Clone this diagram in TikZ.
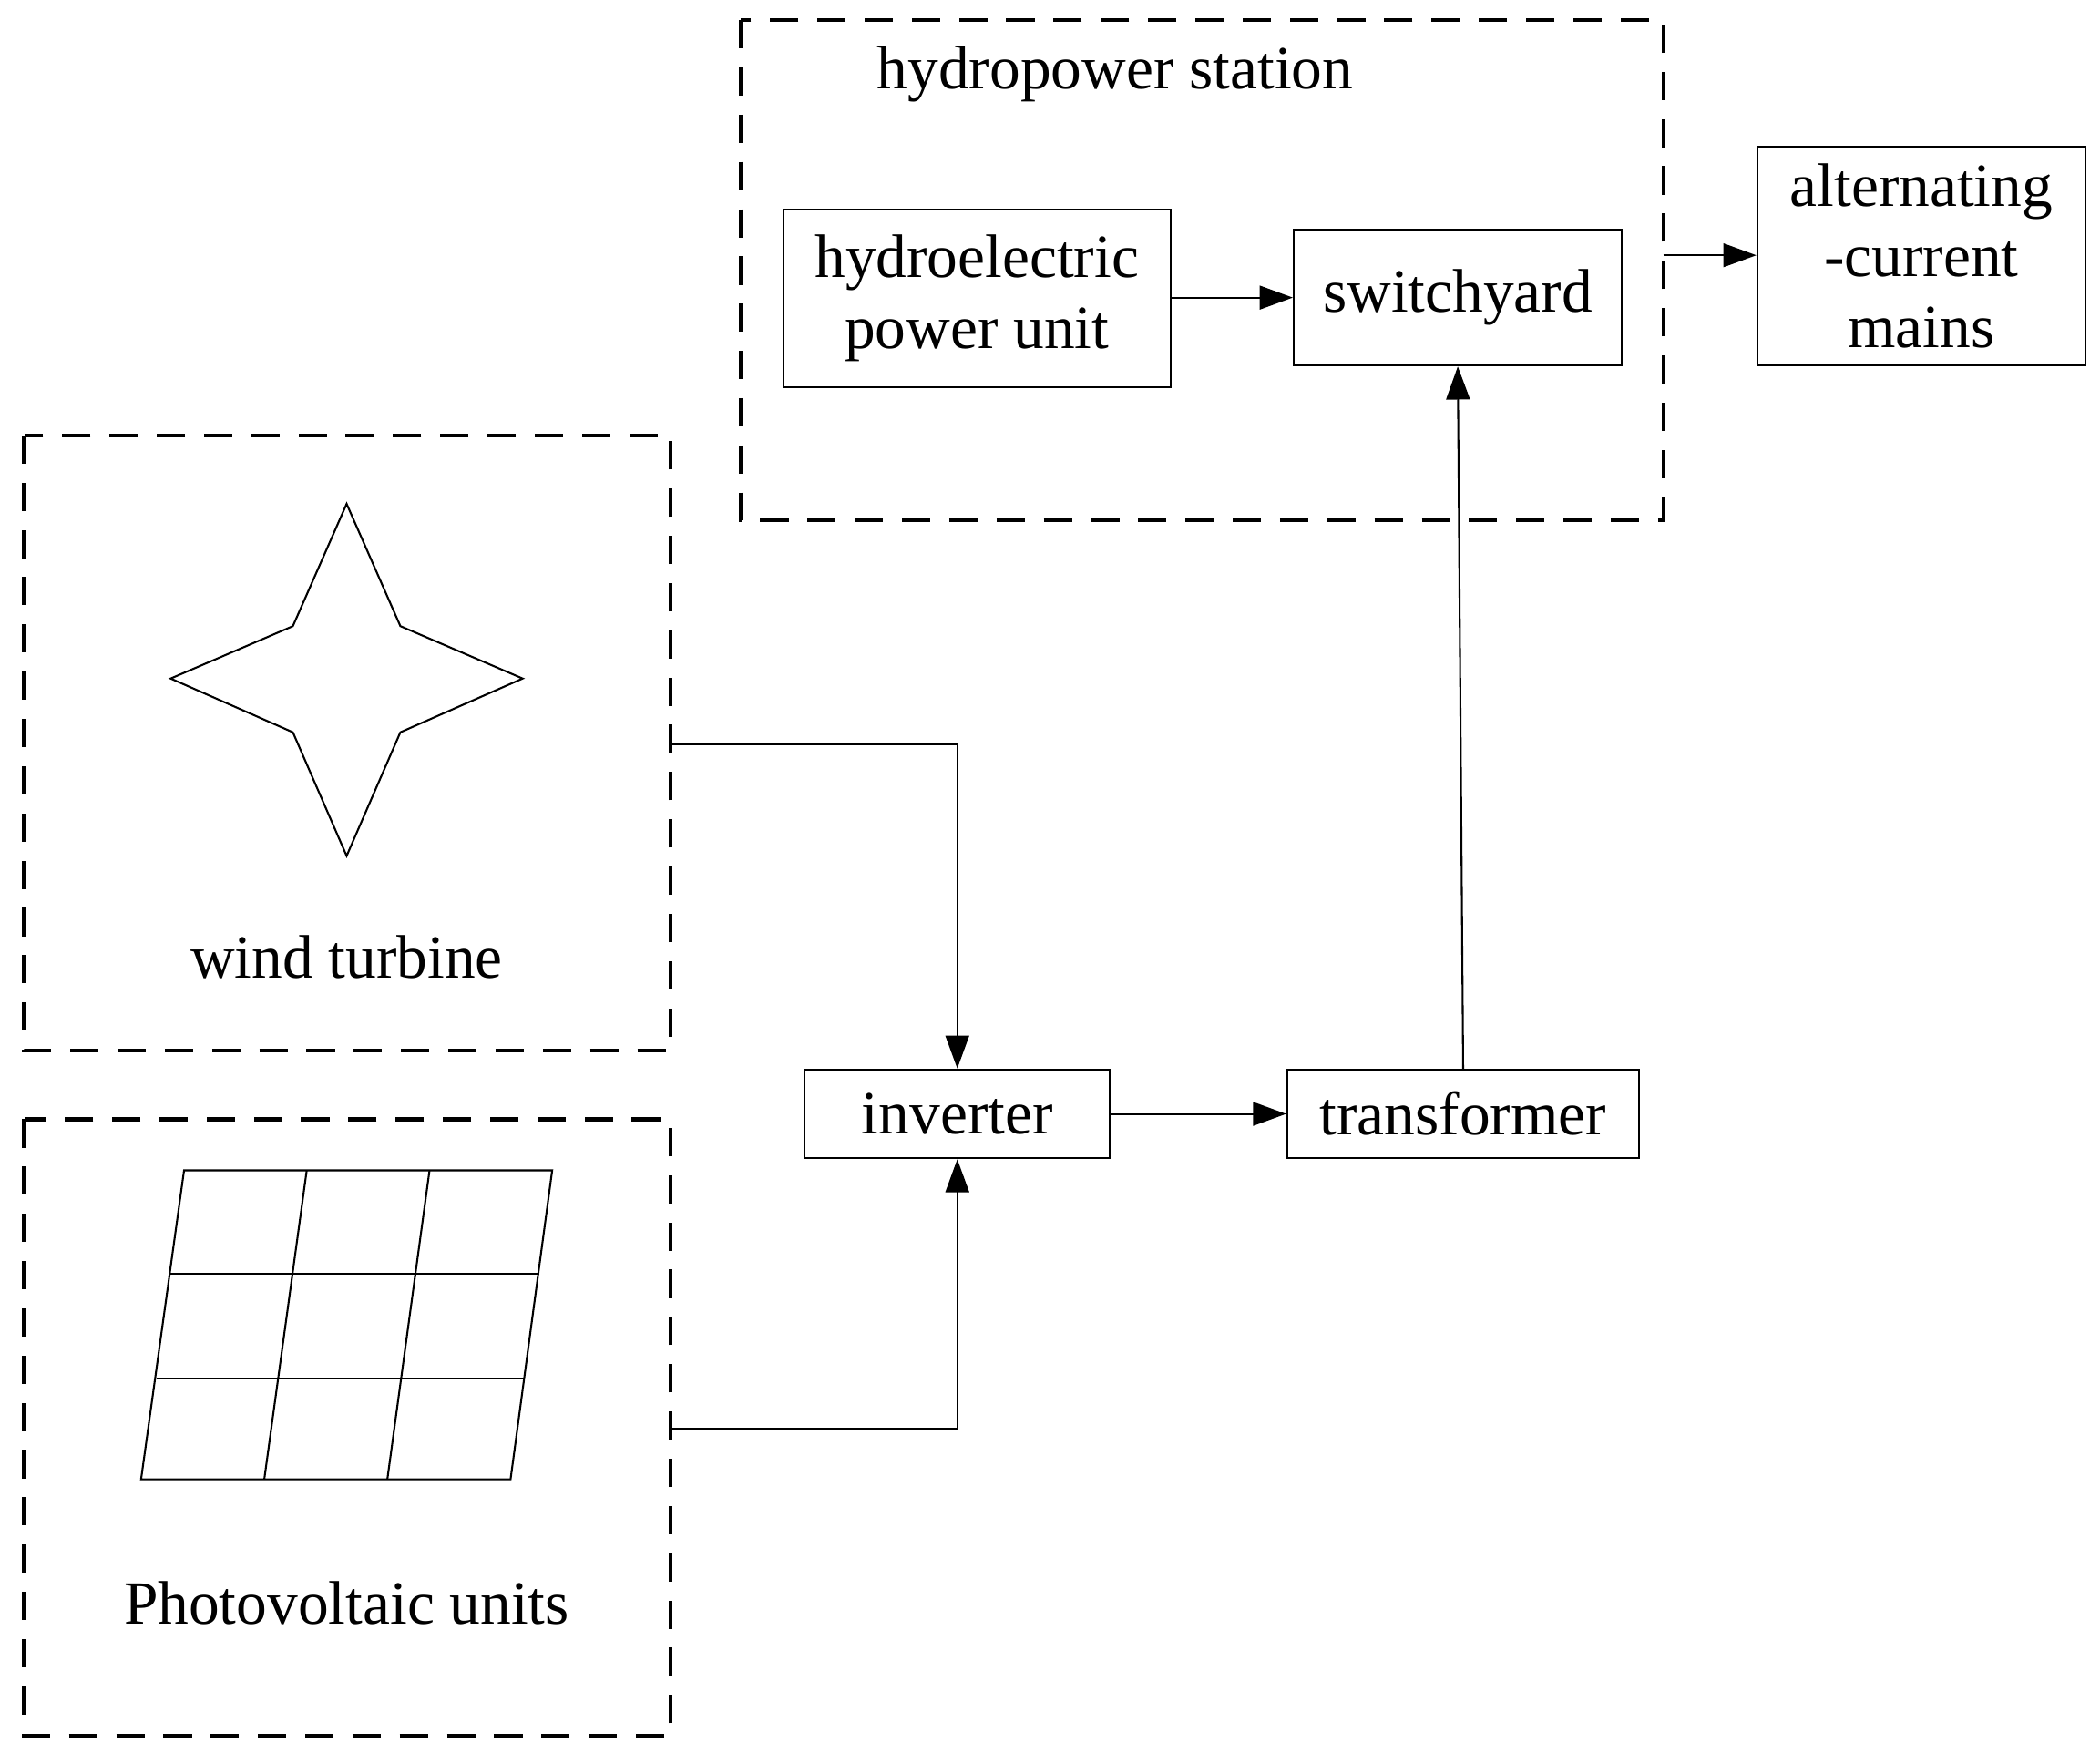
\documentclass[tikz,border=0pt]{standalone}
\usepackage{fontspec}
\setmainfont{Liberation Serif}
\usetikzlibrary{arrows.meta}
\tikzset{
  blk/.style={draw, thin, inner sep=0pt, align=center, font=\fontsize{13}{15}\selectfont},
  grp/.style={draw, thick, dashed, dash pattern=on 6pt off 4pt},
  lbl/.style={font=\fontsize{13}{15}\selectfont},
  flow/.style={-{Triangle[length=7pt,width=5pt]}, thin}
}
\begin{document}
\begin{tikzpicture}[x=0.01cm, y=-0.01cm]
  \useasboundingbox (0,0) rectangle (1563,1304);
  % groups
  \draw[grp] (551,15) rectangle (1238,387);
  \draw[grp] (18,324) rectangle (499,782);
  \draw[grp] (18,833) rectangle (499,1292);
  \node[lbl] (hstation) at (830,55) {hydropower station};
  \node[lbl] (wlabel) at (258,712) {wind turbine};
  \node[lbl] (plabel) at (258,1193) {Photovoltaic units};
  % blocks
  \node[blk, minimum width=2.88cm, minimum height=1.32cm] (hydro) at (727,222) {hydroelectric\\power unit};
  \node[blk, minimum width=2.44cm, minimum height=1.01cm] (switch) at (1085,221.5) {switchyard};
  \node[blk, minimum width=2.44cm, minimum height=1.63cm] (mains) at (1430,190.5) {alternating\\-current\\mains};
  \node[blk, minimum width=2.27cm, minimum height=0.66cm] (inv) at (712.5,829) {inverter};
  \node[blk, minimum width=2.62cm, minimum height=0.66cm] (trans) at (1089,829) {transformer};
  % wind turbine symbol
  \draw[thin] (258,375) -- (298,466) -- (389,505) -- (298,545) -- (258,637)
    -- (218,545) -- (127,505) -- (218,466) -- cycle;
  % photovoltaic panel
  \draw[thin] (137,871) -- (411,871) -- (380,1101) -- (105,1101) -- cycle;
  \draw[thin] (126.7,948) -- (400.7,948);
  \draw[thin] (116.3,1026) -- (390.3,1026);
  \draw[thin] (228.3,871) -- (196.7,1101);
  \draw[thin] (319.7,871) -- (288.3,1101);
  % connectors
  \coordinate (wout) at (499,554);
  \coordinate (pout) at (499,1063);
  \coordinate (hout) at (1238,190);
  \draw[flow] (wout) -| (inv.north);
  \draw[flow] (pout) -| (inv.south);
  \draw[flow] (inv) -- (trans);
  \draw[flow] (trans.north) -- (switch.south);
  \draw[flow] (hydro.east |- switch.west) -- (switch.west);
  \draw[flow] (hout) -- (mains.west |- hout);
\end{tikzpicture}
\end{document}
